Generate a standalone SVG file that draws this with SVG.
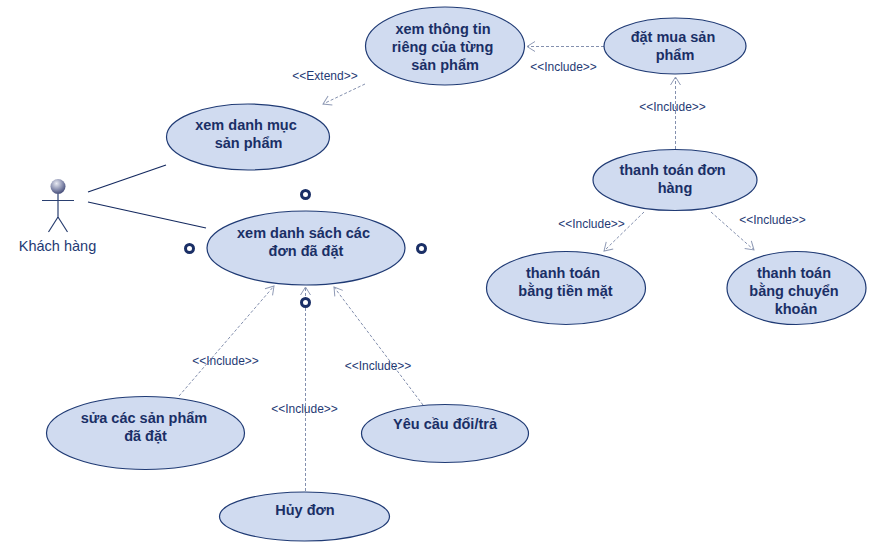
<svg xmlns="http://www.w3.org/2000/svg" width="880" height="548" viewBox="0 0 880 548">
<style>
.uc{fill:#d0dbf0;stroke:#1f3a74;stroke-width:1.2}
.t{font-family:"Liberation Sans",Arial,sans-serif;font-size:14.5px;font-weight:700;fill:#1a2f66;text-anchor:middle}
.l{font-family:"Liberation Sans",Arial,sans-serif;font-size:12px;fill:#1f3a74;text-anchor:middle}
.d{fill:none;stroke:#8490ae;stroke-width:1;stroke-dasharray:3 2}
.h{fill:none;stroke:#8f9ab5;stroke-width:1}
.a{fill:none;stroke:#14295f;stroke-width:1.2}
.p{fill:#fff;stroke:#1a2f66;stroke-width:3}
</style>
<defs>
<radialGradient id="head" cx="0.4" cy="0.3" r="0.75"><stop offset="0" stop-color="#e8eaf2"/><stop offset="0.55" stop-color="#8a90b0"/><stop offset="1" stop-color="#3a4270"/></radialGradient>
<marker id="open" markerWidth="12" markerHeight="12" refX="9" refY="6" orient="auto" markerUnits="userSpaceOnUse"><path d="M1 1 L9 6 L1 11" class="h"/></marker>
</defs>
<g id="connectors">
<line class="a" x1="88" y1="192" x2="166" y2="165"/>
<line class="a" x1="88" y1="202" x2="206" y2="228"/>
<line class="d" x1="365" y1="84" x2="323" y2="104" marker-end="url(#open)"/>
<line class="d" x1="604" y1="46.5" x2="527" y2="46.5" marker-end="url(#open)"/>
<line class="d" x1="675.500" y1="149" x2="675.500" y2="77" marker-end="url(#open)"/>
<line class="d" x1="644" y1="212" x2="604" y2="251" marker-end="url(#open)"/>
<line class="d" x1="711" y1="212" x2="754" y2="250" marker-end="url(#open)"/>
<line class="d" x1="179" y1="396" x2="274" y2="286" marker-end="url(#open)"/>
<line class="d" x1="305.500" y1="491" x2="305.500" y2="287" marker-end="url(#open)"/>
<line class="d" x1="423" y1="405" x2="334" y2="287" marker-end="url(#open)"/>
</g>
<g id="actor">
<circle cx="58" cy="186.500" r="7.500" fill="url(#head)"/>
<path d="M58 194V217M42 200.500H74M58 217L48.500 232M58 217L67.500 232" fill="none" stroke="#2a3f70" stroke-width="1.2"/>
<text x="57.500" y="251" font-family="'Liberation Sans',Arial,sans-serif" font-size="14.500" fill="#1f3a74" text-anchor="middle">Khách hàng</text>
</g>
<g id="uc-info"><ellipse class="uc" cx="445" cy="46" rx="79.500" ry="39"/><text class="t" x="443" y="34">xem thông tin</text><text class="t" x="442.500" y="52">riêng của từng</text><text class="t" x="445" y="70">sản phẩm</text></g>
<g id="uc-buy"><ellipse class="uc" cx="675" cy="46" rx="71" ry="28"/><text class="t" x="673" y="42">đặt mua sản</text><text class="t" x="675" y="60">phẩm</text></g>
<g id="uc-pay"><ellipse class="uc" cx="675" cy="180" rx="82" ry="30.500"/><text class="t" x="672.500" y="175">thanh toán đơn</text><text class="t" x="675" y="193">hàng</text></g>
<g id="uc-catalog"><ellipse class="uc" cx="248" cy="137" rx="81.500" ry="33"/><text class="t" x="246" y="130">xem danh mục</text><text class="t" x="248.500" y="148">sản phẩm</text></g>
<g id="uc-orders"><ellipse class="uc" cx="306" cy="248" rx="99" ry="37"/><text class="t" x="303.500" y="238">xem danh sách các</text><text class="t" x="306" y="256">đơn đã đặt</text></g>
<g id="uc-cash"><ellipse class="uc" cx="566" cy="288" rx="79.500" ry="36.500"/><text class="t" x="563" y="278">thanh toán</text><text class="t" x="565.500" y="296">bằng tiền mặt</text></g>
<g id="uc-transfer"><ellipse class="uc" cx="796.500" cy="288" rx="69.500" ry="36.500"/><text class="t" x="794" y="278">thanh toán</text><text class="t" x="794" y="296">bằng chuyển</text><text class="t" x="796" y="314">khoản</text></g>
<g id="uc-edit"><ellipse class="uc" cx="145.500" cy="433" rx="99" ry="36.500"/><text class="t" x="144" y="423">sửa các sản phẩm</text><text class="t" x="145.500" y="441">đã đặt</text></g>
<g id="uc-return"><ellipse class="uc" cx="445" cy="433.500" rx="83.500" ry="29"/><text class="t" x="445" y="429">Yêu cầu đổi/trả</text></g>
<g id="uc-cancel"><ellipse class="uc" cx="304.500" cy="516.500" rx="85" ry="24.500"/><text class="t" x="305" y="515">Hủy đơn</text></g>
<g id="handles">
<circle class="p" cx="305.500" cy="194.500" r="4"/>
<circle class="p" cx="189.500" cy="248.500" r="4"/>
<circle class="p" cx="421.500" cy="248.500" r="4"/>
<circle class="p" cx="305.500" cy="302.500" r="4"/>
</g>
<g id="labels">
<text class="l" x="325" y="80">&lt;&lt;Extend&gt;&gt;</text>
<text class="l" x="563.500" y="71">&lt;&lt;Include&gt;&gt;</text>
<text class="l" x="672.500" y="111">&lt;&lt;Include&gt;&gt;</text>
<text class="l" x="591.500" y="228">&lt;&lt;Include&gt;&gt;</text>
<text class="l" x="772.500" y="224">&lt;&lt;Include&gt;&gt;</text>
<text class="l" x="225.500" y="365">&lt;&lt;Include&gt;&gt;</text>
<text class="l" x="304.500" y="413">&lt;&lt;Include&gt;&gt;</text>
<text class="l" x="378" y="370">&lt;&lt;Include&gt;&gt;</text>
</g>
</svg>
